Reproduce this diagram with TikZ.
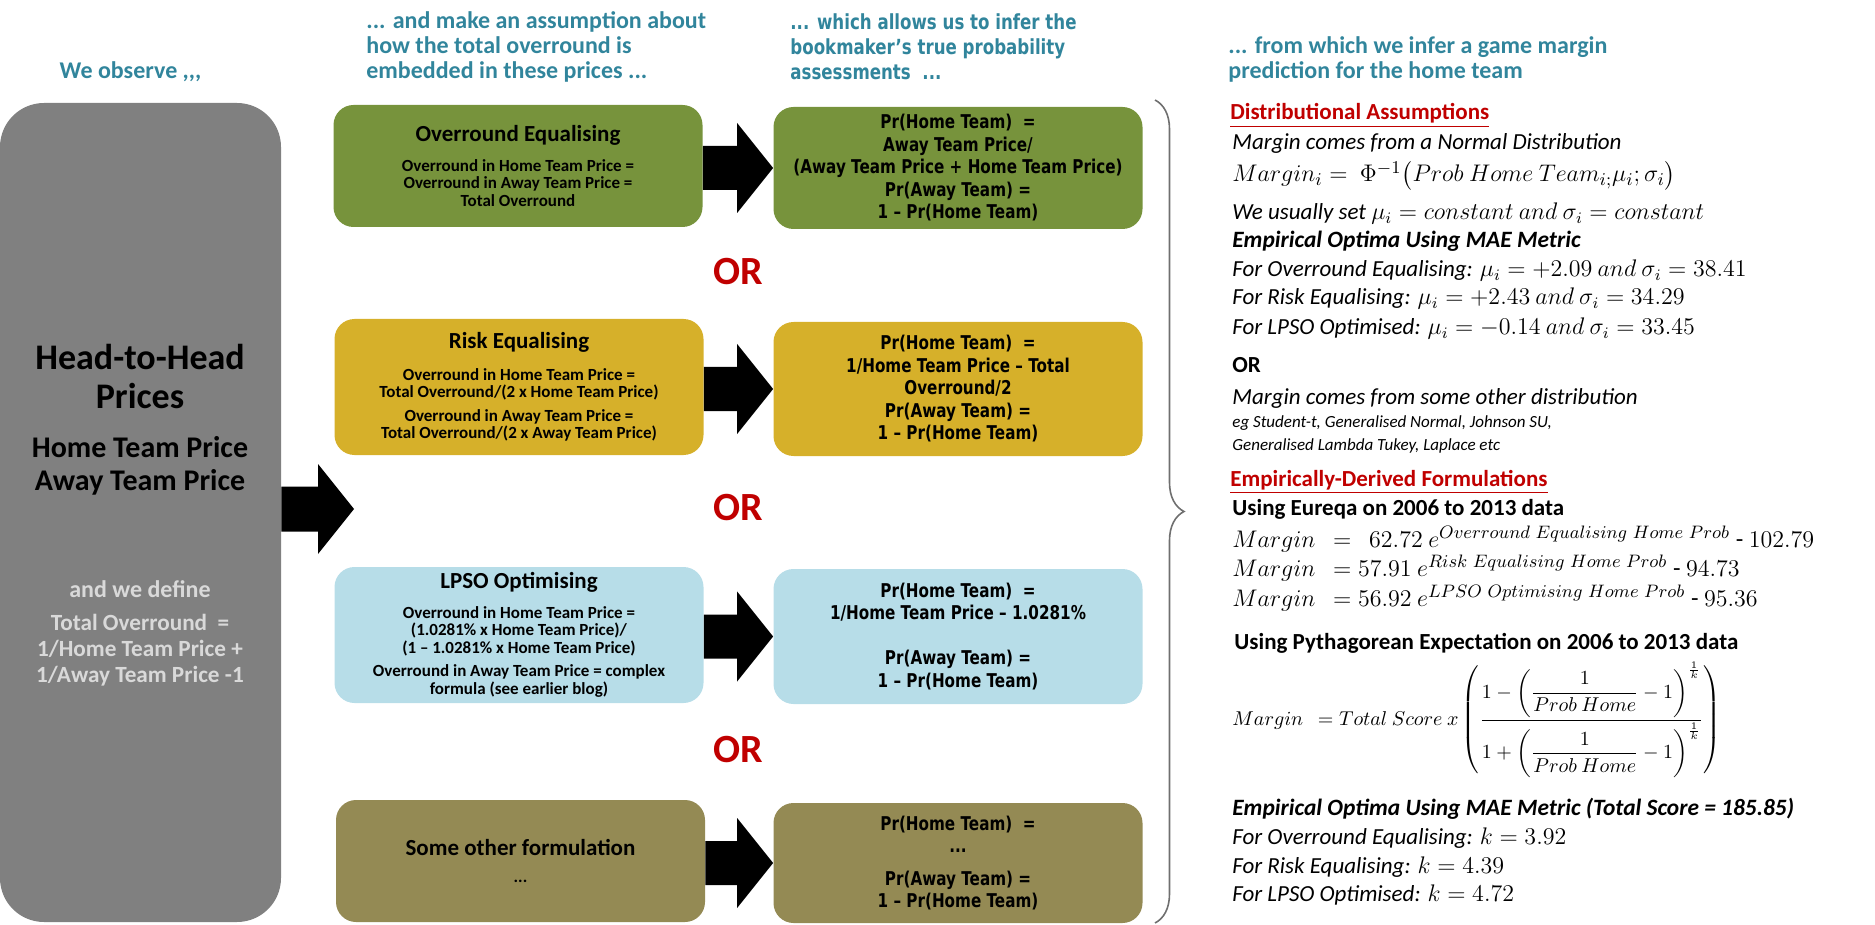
\documentclass[tikz,border=0pt]{standalone}
\usepackage{amsmath}
\usepackage[no-math]{fontspec}
\setmainfont{Carlito}
\newfontfamily\tahoma[FakeStretch=0.8]{DejaVu Sans}
\usetikzlibrary{calc,decorations.pathreplacing}
\definecolor{hdteal}{HTML}{31859C}
\definecolor{orred}{HTML}{C00000}
\definecolor{boxgreen}{HTML}{77933C}
\definecolor{boxgold}{HTML}{D6B02A}
\definecolor{boxblue}{HTML}{B7DDE8}
\definecolor{boxolive}{HTML}{948A54}
\definecolor{boxgrey}{HTML}{808080}
\definecolor{softgrey}{HTML}{D9D9D9}
\definecolor{bracegrey}{HTML}{6F6F6F}
\tikzset{
  heading/.style={font=\bfseries\fontsize{12}{12.5}\selectfont, text=hdteal, align=left, inner sep=0pt},
  method/.style={rounded corners=10pt, minimum width=184.5pt, align=center, inner sep=0pt,
    font=\bfseries\fontsize{8.5}{8.75}\selectfont},
  prob/.style={method, font=\tahoma\bfseries\fontsize{9.5}{11.25}\selectfont},
  orlabel/.style={font=\bfseries\fontsize{20}{20}\selectfont, text=orred},
  rline/.style={anchor=base west, inner sep=0pt, font=\fontsize{11.5}{13}\selectfont},
  rit/.style={rline, font=\itshape\fontsize{11.5}{13}\selectfont},
  rbf/.style={rline, font=\bfseries\fontsize{11.5}{13}\selectfont},
  rbi/.style={rline, font=\bfseries\itshape\fontsize{11.7}{13}\selectfont},
  rred/.style={rline, font=\bfseries\fontsize{11.5}{13}\selectfont, text=orred},
}
\newcommand{\boxtitle}[1]{{\fontsize{11.5}{12}\selectfont #1}}
\begin{document}
\begin{tikzpicture}[x=0.5pt,y=-0.5pt]
  \useasboundingbox (0,0) rectangle (1875,925);

  % column headings
  \node[heading, anchor=center] (obs) at (130.5,72) {We observe ,{},{},};
  \node[heading, anchor=west] (assume) at (366,47) {... and make an assumption about\\how the total overround is\\embedded in these prices ...};
  \node[heading, anchor=west, font=\tahoma\bfseries\fontsize{10.4}{12.5}\selectfont] (infer) at (790,47) {... which allows us to infer the\\bookmaker’s true probability\\assessments \ ...};
  \node[heading, anchor=west] (predict) at (1228,59) {... from which we infer a game margin\\prediction for the home team};

  % observed prices
  \node[fill=boxgrey, rounded corners=22pt, minimum width=140.5pt, minimum height=409.5pt, inner sep=0pt] (hh) at (140.5,512.5) {};
  \node[font=\bfseries\fontsize{18}{19.5}\selectfont, align=center] (h2h) at (140,377) {Head-to-Head\\Prices};
  \node[font=\bfseries\fontsize{15}{16.5}\selectfont, align=center] (hprice) at (140,466) {Home Team Price\\Away Team Price};
  \node[font=\bfseries\fontsize{12}{14}\selectfont, text=softgrey] (wedef) at (140,589) {and we define};
  \node[font=\bfseries\fontsize{11.6}{12.9}\selectfont, text=softgrey, align=center] (totov) at (140,650) {Total Overround \ =\\1/Home Team Price +\\1/Away Team Price -1};
  \coordinate (mtip) at (354,509);
  \fill ($(hh.east|-mtip)+(0,-22.5)$) -- ($(mtip)+(-36,-22.5)$) -- ($(mtip)+(-36,-45)$) -- (mtip)
    -- ($(mtip)+(-36,45)$) -- ($(mtip)+(-36,22.5)$) -- ($(hh.east|-mtip)+(0,22.5)$) -- cycle;

  % assumptions
  \node[method, fill=boxgreen, minimum height=61pt] (oe) at (518,166) {\boxtitle{Overround Equalising}\\[6pt]Overround in Home Team Price =\\Overround in Away Team Price =\\Total Overround};
  \node[method, fill=boxgold, minimum height=68pt] (re) at (519,387) {\boxtitle{Risk Equalising}\\[7pt]Overround in Home Team Price =\\Total Overround/(2 x Home Team Price)\\[3pt]Overround in Away Team Price =\\Total Overround/(2 x Away Team Price)};
  \node[method, fill=boxblue, minimum height=68pt] (lo) at (519,635) {\boxtitle{LPSO Optimising}\\[6pt]Overround in Home Team Price =\\(1.0281\% x Home Team Price)/\\(1 – 1.0281\% x Home Team Price)\\[3pt]Overround in Away Team Price = complex\\formula (see earlier blog)};
  \node[method, fill=boxolive, minimum height=61pt] (so) at (520.5,861) {\boxtitle{Some other formulation}\\[5pt]...};

  % inferred probabilities
  \node[prob, fill=boxgreen, minimum height=61pt] (pe) at (958,168) {Pr(Home Team) \ =\\Away Team Price/\\(Away Team Price + Home Team Price)\\Pr(Away Team) =\\1 – Pr(Home Team)};
  \node[prob, fill=boxgold, minimum height=67pt] (pr) at (958,389) {Pr(Home Team) \ =\\1/Home Team Price – Total\\Overround/2\\Pr(Away Team) =\\1 – Pr(Home Team)};
  \node[prob, fill=boxblue, minimum height=67.5pt] (pl) at (958,636.5) {Pr(Home Team) \ =\\1/Home Team Price – 1.0281\%\\[11.25pt]Pr(Away Team) =\\1 – Pr(Home Team)};
  \node[prob, fill=boxolive, minimum height=60pt] (ps) at (958,863) {Pr(Home Team) \ =\\...\\[5pt]Pr(Away Team) =\\1 – Pr(Home Team)};

  \foreach \a/\b in {oe/pe,re/pr,lo/pl,so/ps}
    \fill ($(\a.east|-\b.west)+(0,-22)$) -- ($(\b.west)+(-36,-22)$) -- ($(\b.west)+(-36,-45)$) -- (\b.west)
      -- ($(\b.west)+(-36,45)$) -- ($(\b.west)+(-36,22)$) -- ($(\a.east|-\b.west)+(0,22)$) -- cycle;

  \node[orlabel] (or1) at (738,272) {OR};
  \node[orlabel] (or2) at (738,508) {OR};
  \node[orlabel] (or3) at (738,750) {OR};

  \draw[bracegrey, line width=0.8pt, decorate, decoration={brace, amplitude=14.5pt}] (1155,100) -- (1155,923);

  % margin prediction
  \node[rred] (dist) at (1230,120) {\underline{Distributional Assumptions}};
  \node[rit] (d1) at (1232,150) {Margin comes from a Normal Distribution};
  \node[rline, font=\fontsize{12.5}{14}\selectfont] (d2) at (1232,182) {$Margin_i =\ \Phi^{-1}\bigl(Prob\ Home\ Team_{i;}\mu_i;\sigma_i\bigr)$};
  \node[rit] (d3) at (1232,220) {We usually set $\mu_i = constant\ and\ \sigma_i = constant$};
  \node[rbi] (d4) at (1232,248) {Empirical Optima Using MAE Metric};
  \node[rit] (d5) at (1232,277) {For Overround Equalising: $\mu_i = +2.09\ and\ \sigma_i = 38.41$};
  \node[rit] (d6) at (1232,305) {For Risk Equalising: $\mu_i = +2.43\ and\ \sigma_i = 34.29$};
  \node[rit] (d7) at (1232,335) {For LPSO Optimised: $\mu_i = -0.14\ and\ \sigma_i = 33.45$};
  \node[rbf] (d8) at (1232,372) {OR};
  \node[rit] (d9) at (1232,404) {Margin comes from some other distribution};
  \node[rline, font=\itshape\fontsize{8.5}{10}\selectfont] (d10) at (1232,428) {eg Student-t, Generalised Normal, Johnson SU,};
  \node[rline, font=\itshape\fontsize{8.5}{10}\selectfont] (d11) at (1232,451) {Generalised Lambda Tukey, Laplace etc};
  \node[rred] (emp) at (1230,486) {\underline{Empirically-Derived Formulations}};
  \node[rbf] (e1) at (1232,515) {Using Eureqa on 2006 to 2013 data};
  \node[rline, font=\fontsize{12.3}{14}\selectfont] (e2) at (1232,547) {$Margin\ \ =\ \ 62.72\ e^{Overround\ Equalising\ Home\ Prob}$ - $102.79$};
  \node[rline, font=\fontsize{12.3}{14}\selectfont] (e3) at (1232,576) {$Margin\ \ = 57.91\ e^{Risk\ Equalising\ Home\ Prob}$ - $94.73$};
  \node[rline, font=\fontsize{12.3}{14}\selectfont] (e4) at (1232,606) {$Margin\ \ = 56.92\ e^{LPSO\ Optimising\ Home\ Prob}$ - $95.36$};
  \node[rbf] (e5) at (1234,649) {Using Pythagorean Expectation on 2006 to 2013 data};
  \node[anchor=west, inner sep=0pt, font=\fontsize{10.1}{12}\selectfont] (e6) at (1232,720) {$Margin\ \ = Total\ Score\ x\left(\dfrac{1-\left(\dfrac{1}{Prob\ Home}-1\right)^{\frac{1}{k}}}{1+\left(\dfrac{1}{Prob\ Home}-1\right)^{\frac{1}{k}}}\right)$};
  \node[rbi] (e7) at (1232,815) {Empirical Optima Using MAE Metric (Total Score = 185.85)};
  \node[rit] (e8) at (1232,844) {For Overround Equalising: $k = 3.92$};
  \node[rit] (e9) at (1232,873) {For Risk Equalising: $k = 4.39$};
  \node[rit] (e10) at (1232,901) {For LPSO Optimised: $k = 4.72$};
\end{tikzpicture}
\end{document}
